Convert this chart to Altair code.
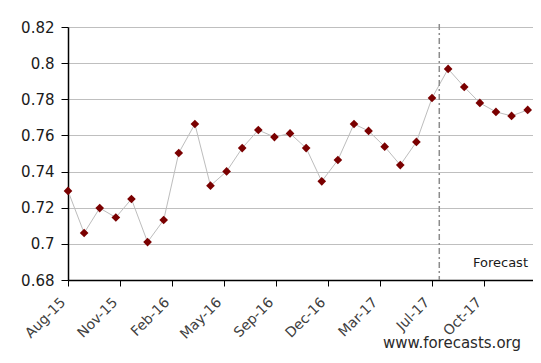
import altair as alt
import pandas as pd

months = ["2015-08-01", "2015-09-01", "2015-10-01", "2015-11-01", "2015-12-01",
          "2016-01-01", "2016-02-01", "2016-03-01", "2016-04-01", "2016-05-01",
          "2016-06-01", "2016-07-01", "2016-08-01", "2016-09-01", "2016-10-01",
          "2016-11-01", "2016-12-01", "2017-01-01", "2017-02-01", "2017-03-01",
          "2017-04-01", "2017-05-01", "2017-06-01", "2017-07-01", "2017-08-01",
          "2017-09-01", "2017-10-01", "2017-11-01", "2017-12-01", "2018-01-01"]
values = [0.7293, 0.7060, 0.7198, 0.7146, 0.7248, 0.7010, 0.7132, 0.7503, 0.7663, 0.7322,
          0.7401, 0.7530, 0.7630, 0.7591, 0.7611, 0.7530, 0.7346, 0.7464, 0.7663, 0.7625,
          0.7538, 0.7436, 0.7564, 0.7807, 0.7968, 0.7868, 0.7780, 0.7730, 0.7708, 0.7741]

tick_dates = ["2015-08-01", "2015-11-09", "2016-02-17", "2016-05-27", "2016-09-04",
              "2016-12-13", "2017-03-23", "2017-07-01", "2017-10-09"]
x_domain = ["2015-08-01", "2018-01-17"]
y_ticks = [0.68, 0.70, 0.72, 0.74, 0.76, 0.78, 0.80, 0.82]
forecast_start = ["2017-07-15"]
annotations = ["Forecast", "www.forecasts.org"]


def ms(s):
    return int(pd.Timestamp(s, tz="UTC").value // 10**6)


df = pd.DataFrame({"date": months, "value": values})
rule_df = pd.DataFrame({"date": forecast_start})

x_enc = alt.X(
    "date:T",
    scale=alt.Scale(type="utc", domain=[ms(d) for d in x_domain], nice=False,
                    range=[0, 468]),
    axis=alt.Axis(
        values=[ms(d) for d in tick_dates],
        labelExpr="utcFormat(datum.value, '%b-%y')",
        title=None, grid=False, labelAngle=-45, labelAlign="right",
        labelBaseline="top", labelPadding=9, labelOffset=-10, tickSize=6,
        labelFontSize=14, labelColor="#404040", labelOverlap=False,
    ),
)
y_enc = alt.Y(
    "value:Q",
    scale=alt.Scale(domain=[0.68, 0.82], nice=False, zero=False),
    axis=alt.Axis(values=y_ticks, format=".2~f", title=None, tickSize=7,
                  labelPadding=7, labelFontSize=15, labelColor="#1a1a1a",
                  gridColor="#bfbfbf", labelOverlap=False),
)

base = alt.Chart(df).encode(x=x_enc, y=y_enc)
line = base.mark_line(color="#bdbdbd", strokeWidth=1)
points = base.mark_point(
    shape="diamond", filled=True, size=75, color="#7a0000", opacity=1
)

rule = alt.Chart(rule_df).mark_rule(
    color="#8c8c8c", strokeWidth=1.5, strokeDash=[6, 3, 2, 3]
).encode(x="date:T", y=alt.value(-3), y2=alt.value(253))

t1 = alt.Chart(pd.DataFrame({"t": [annotations[0]]})).mark_text(
    align="right", baseline="alphabetic", fontSize=13, color="#1a1a1a", font="DejaVu Sans"
).encode(x=alt.value(460), y=alt.value(240), text="t:N")
t2 = alt.Chart(pd.DataFrame({"t": [annotations[1]]})).mark_text(
    align="right", baseline="alphabetic", fontSize=15, color="#2a2a2a", font="DejaVu Sans"
).encode(x=alt.value(453), y=alt.value(321), text="t:N")

chart = alt.layer(line, points, rule, t1, t2).properties(
    width=465, height=253,
    padding={"left": 60, "top": 19, "right": 0, "bottom": 80},
    autosize="none",
).configure_view(stroke=None).configure_axis(
    labelFont="DejaVu Sans", domainColor="#000000", tickColor="#000000", domainWidth=1.5
)

chart.save("out.html", embed_options={"renderer": "svg", "actions": False})
